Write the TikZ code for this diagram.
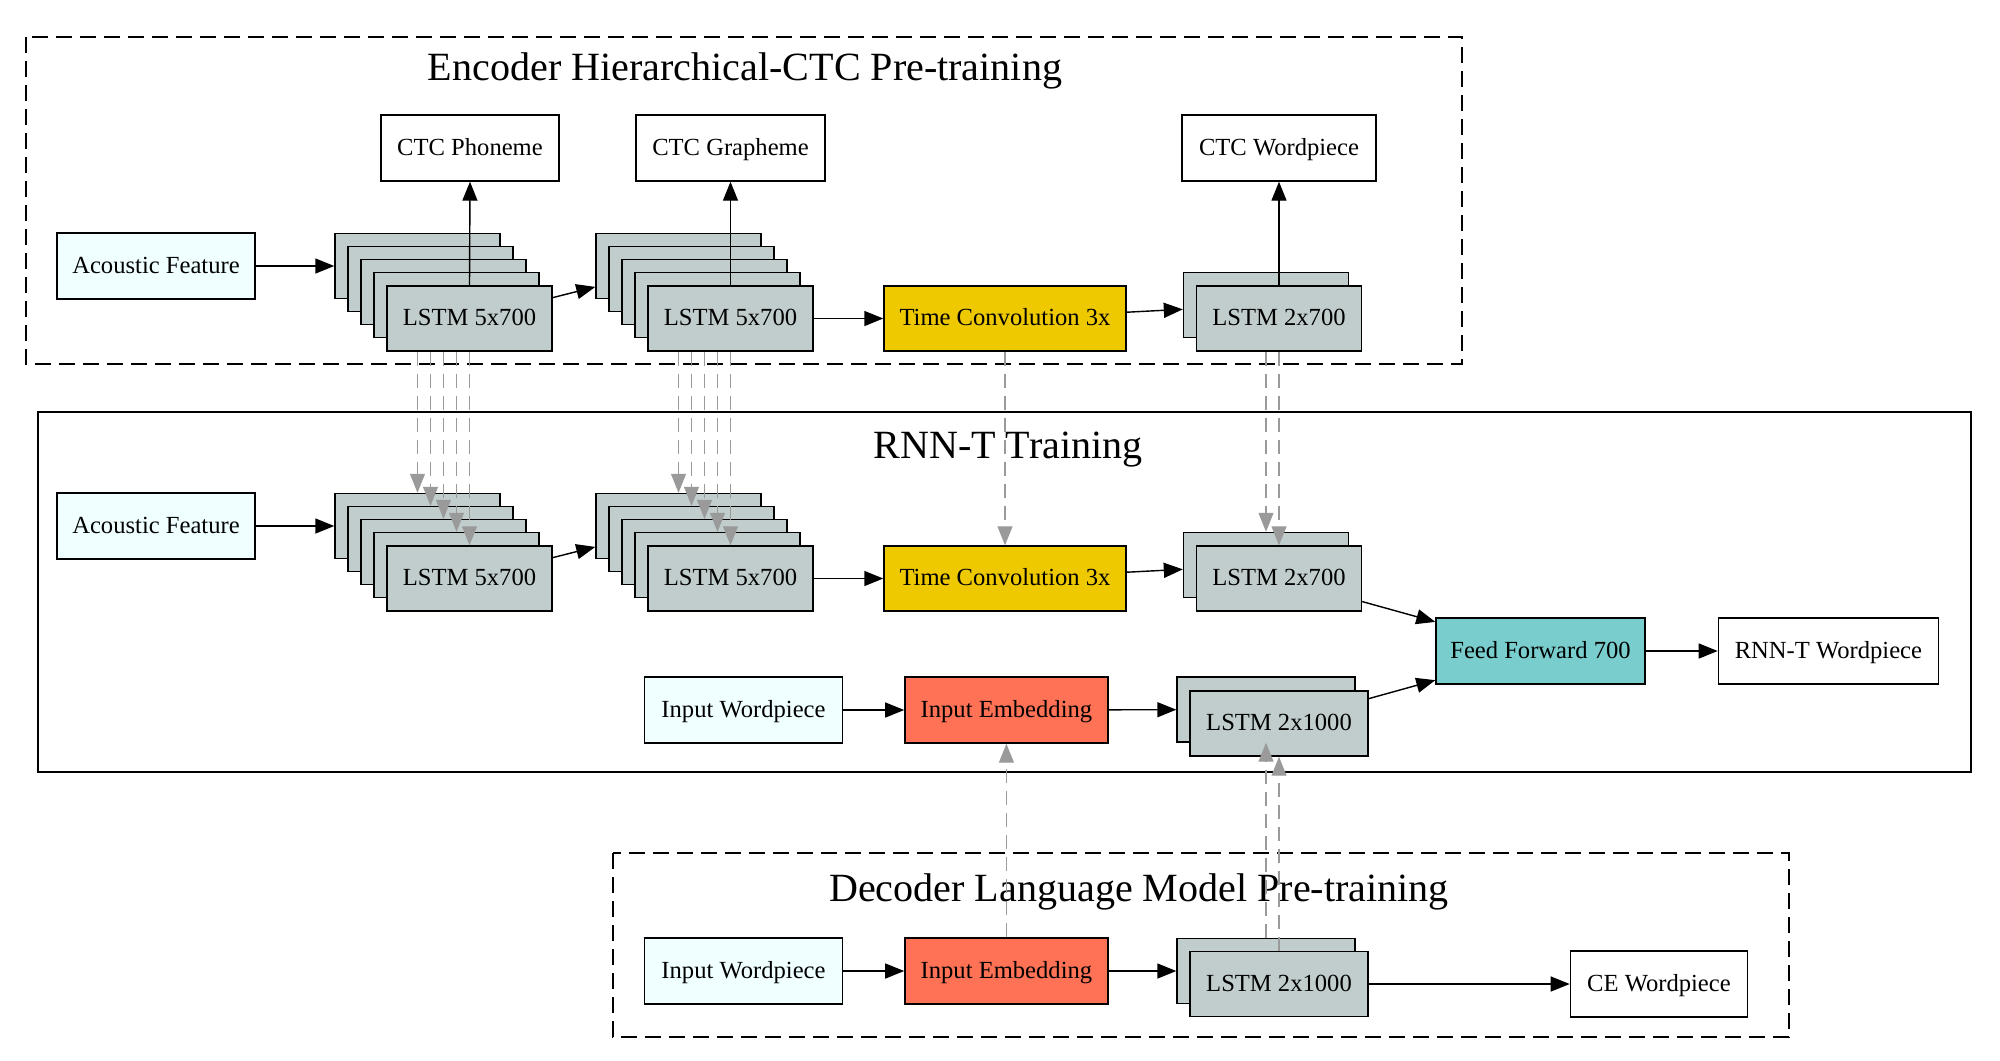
\documentclass[tikz,border=0pt]{standalone}
\usepackage{fontspec}
\setmainfont{Liberation Serif}
\usepackage{tikz}
\usepackage{xcolor}
\usetikzlibrary{arrows.meta}
\usetikzlibrary{positioning}

\definecolor{lstmgray}{HTML}{C1CDCD}
\definecolor{featblue}{HTML}{F0FFFF}
\definecolor{convgold}{HTML}{EEC900}
\definecolor{embcoral}{HTML}{FF7256}
\definecolor{ffteal}{HTML}{79CDCD}
\definecolor{linkgray}{HTML}{9A9A9A}

\begin{document}
\begin{tikzpicture}[x=0.2mm, y=-0.2mm,
    box/.style={draw, rectangle, minimum height=13.2mm, inner sep=0pt, line width=0.8pt, text height=11pt, text depth=3pt, font=\fontsize{14}{16}\selectfont},
    feat/.style={box, fill=featblue, minimum width=39.6mm},
    target/.style={box, fill=white},
    lstm/.style={box, fill=lstmgray, minimum width=33mm, minimum height=13mm},
    lstmwide/.style={lstm, minimum width=35.6mm},
    conv/.style={box, fill=convgold, minimum width=48.4mm, minimum height=13mm},
    emb/.style={box, fill=embcoral, minimum width=40.6mm},
    ffw/.style={box, fill=ffteal, minimum width=41.8mm},
    link/.style={-{Triangle[length=3.8mm, width=3mm]}, line width=0.8pt},
    share/.style={-{Triangle[length=3.8mm, width=3mm]}, color=linkgray, dash pattern=on 2.8mm off 1.6mm, line width=0.6pt},
    cluster/.style={draw, line width=0.8pt, dash pattern=on 3.2mm off 1.6mm},
    title/.style={anchor=base, font=\fontsize{22.8}{26}\selectfont}]
    \useasboundingbox (0,0) rectangle (2000,1060);

    % clusters
    \draw[cluster] (26,37) rectangle (1462,364);
    \draw[line width=0.8pt] (38,412) rectangle (1971,772);
    \draw[cluster] (613,853) rectangle (1789,1037);
    \node[title] (encTitle) at (745,80) {Encoder Hierarchical-CTC Pre-training};
    \node[title] (rnntTitle) at (1008,458) {RNN-T Training};
    \node[title] (decTitle) at (1139,901) {Decoder Language Model Pre-training};

    % encoder pre-training
    \node[feat] (acA) at (156,266) {Acoustic Feature};
    \node[lstm] (encA1) at (417.5,266) {};
    \node[lstm] (encA2) at (430.5,279) {};
    \node[lstm] (encA3) at (443.5,292) {};
    \node[lstm] (encA4) at (456.5,305) {};
    \node[lstm] (encA5) at (469.5,318.5) {LSTM 5x700};
    \node[lstm] (encB1) at (678.5,266) {};
    \node[lstm] (encB2) at (691.5,279) {};
    \node[lstm] (encB3) at (704.5,292) {};
    \node[lstm] (encB4) at (717.5,305) {};
    \node[lstm] (encB5) at (730.5,318.5) {LSTM 5x700};
    \node[conv] (tcA) at (1005,318.5) {Time Convolution 3x};
    \node[lstm] (encC1) at (1266,305) {};
    \node[lstm] (encC2) at (1279,318.5) {LSTM 2x700};
    \node[target, minimum width=35.6mm] (phon) at (470,148) {CTC Phoneme};
    \node[target, minimum width=37.8mm] (graph) at (730.5,148) {CTC Grapheme};
    \node[target, minimum width=38.8mm] (wpc) at (1279,148) {CTC Wordpiece};

    % rnn-t training
    \node[feat] (acB) at (156,526) {Acoustic Feature};
    \node[lstm] (rnA1) at (417.5,526) {};
    \node[lstm] (rnA2) at (430.5,539) {};
    \node[lstm] (rnA3) at (443.5,552) {};
    \node[lstm] (rnA4) at (456.5,565) {};
    \node[lstm] (rnA5) at (469.5,578.5) {LSTM 5x700};
    \node[lstm] (rnB1) at (678.5,526) {};
    \node[lstm] (rnB2) at (691.5,539) {};
    \node[lstm] (rnB3) at (704.5,552) {};
    \node[lstm] (rnB4) at (717.5,565) {};
    \node[lstm] (rnB5) at (730.5,578.5) {LSTM 5x700};
    \node[conv] (tcB) at (1005,578.5) {Time Convolution 3x};
    \node[lstm] (rnC1) at (1266,565) {};
    \node[lstm] (rnC2) at (1279,578.5) {LSTM 2x700};
    \node[ffw] (ff) at (1540.5,651) {Feed Forward 700};
    \node[target, minimum width=44mm] (rnntwp) [right=14.4mm of ff] {RNN-T Wordpiece};
    \node[feat] (iwA) at (743.5,710) {Input Wordpiece};
    \node[emb] (ieA) [right=12.2mm of iwA] {Input Embedding};
    \node[lstmwide] (lmA1) at (1266,709.5) {};
    \node[lstmwide] (lmA2) at (1279,723.5) {LSTM 2x1000};

    % decoder pre-training
    \node[feat] (iwB) at (743.5,971) {Input Wordpiece};
    \node[emb] (ieB) [right=12.2mm of iwB] {Input Embedding};
    \node[lstmwide] (lmB1) at (1266,971) {};
    \node[lstmwide] (lmB2) at (1279,984) {LSTM 2x1000};
    \node[target, minimum width=35.4mm] (ce) [right=40.2mm of lmB2] {CE Wordpiece};

    \draw[link] (acA) -- (encA1);
    \draw[link] (encA5.north) -- (phon.south);
    \draw[link] (encA5) -- (encB1);
    \draw[link] (encB5.north) -- (graph.south);
    \draw[link] (encB5) -- (tcA);
    \draw[link] (tcA) -- (encC1);
    \draw[link] (encC2.north) -- (wpc.south);

    \draw[link] (acB) -- (rnA1);
    \draw[link] (rnA5) -- (rnB1);
    \draw[link] (rnB5) -- (tcB);
    \draw[link] (tcB) -- (rnC1);
    \draw[link] (rnC2) -- (ff);
    \draw[link] (lmA2) -- (ff);
    \draw[link] (ff) -- (rnntwp);
    \draw[link] (iwA) -- (ieA);
    \draw[link] (ieA) -- (lmA1);

    \draw[link] (iwB) -- (ieB);
    \draw[link] (ieB) -- (lmB1);
    \draw[link] (lmB2) -- (ce);

    % shared weights
    \draw[share] (encA1.south |- encA5.south) -- (rnA1.north);
    \draw[share] (encA2.south |- encA5.south) -- (rnA2.north);
    \draw[share] (encA3.south |- encA5.south) -- (rnA3.north);
    \draw[share] (encA4.south |- encA5.south) -- (rnA4.north);
    \draw[share] (encA5.south) -- (rnA5.north);
    \draw[share] (encB1.south |- encB5.south) -- (rnB1.north);
    \draw[share] (encB2.south |- encB5.south) -- (rnB2.north);
    \draw[share] (encB3.south |- encB5.south) -- (rnB3.north);
    \draw[share] (encB4.south |- encB5.south) -- (rnB4.north);
    \draw[share] (encB5.south) -- (rnB5.north);
    \draw[share] (tcA.south) -- (tcB.north);
    \draw[share] (encC1.south |- encC2.south) -- (rnC1.north);
    \draw[share] (encC2.south) -- (rnC2.north);
    \draw[share] (ieB.north) -- (ieA.south);
    \draw[share] (lmB1.north) -- (lmA1.south);
    \draw[share] (lmB2.north) -- (lmA2.south);
\end{tikzpicture}
\end{document}
